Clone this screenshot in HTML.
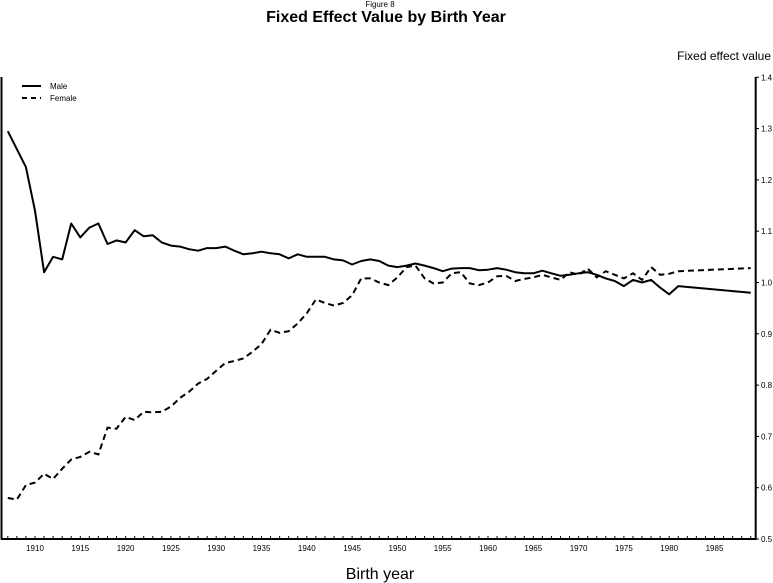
<!DOCTYPE html>
<html><head><meta charset="utf-8"><style>
html,body{margin:0;padding:0;background:#fff;}
svg{display:block;font-family:"Liberation Sans",sans-serif;}
</style></head><body>
<svg id="s" width="773" height="583" viewBox="0 0 773 583" xmlns="http://www.w3.org/2000/svg">
<text x="380" y="7" font-size="8" text-anchor="middle">Figure 8</text>
<text x="386" y="22" font-size="16" font-weight="bold" text-anchor="middle">Fixed Effect Value by Birth Year</text>
<text x="771" y="60" font-size="12" text-anchor="end">Fixed effect value</text>
<text x="380" y="579" font-size="16" text-anchor="middle">Birth year</text>
<line x1="22" y1="86" x2="41" y2="86" stroke="#000" stroke-width="2"/>
<line x1="22" y1="98" x2="41" y2="98" stroke="#000" stroke-width="2" stroke-dasharray="5,4"/>
<text x="50" y="89" font-size="8">Male</text>
<text x="50" y="101" font-size="8">Female</text>
<g stroke="#000" fill="none">
<line x1="1.5" y1="77" x2="1.5" y2="539.5" stroke-width="2"/>
<line x1="1" y1="539" x2="756.5" y2="539" stroke-width="2"/>
<line x1="755.7" y1="77" x2="755.7" y2="540" stroke-width="2"/>
</g>
<g id="g"></g>
</svg>
<script>
var NS="http://www.w3.org/2000/svg",g=document.getElementById("g");
function X(y){return 35+(y-1910)*9.06;}
function Y(v){return 539-(v-0.5)*513;}
function el(t,a,txt){var e=document.createElementNS(NS,t);for(var k in a)e.setAttribute(k,a[k]);if(txt)e.textContent=txt;g.appendChild(e);}
for(var yr=1907;yr<=1989;yr++){el("line",{x1:X(yr),y1:539,x2:X(yr),y2:536,stroke:"#000","stroke-width":1});}
for(var yr=1910;yr<=1985;yr+=5){el("text",{x:X(yr),y:551,"font-size":"8","text-anchor":"middle"},String(yr));}
for(var i=0;i<=9;i++){var v=0.5+i*0.1;el("line",{x1:755.7,y1:Y(v),x2:759,y2:Y(v),stroke:"#000","stroke-width":1});el("text",{x:761,y:Y(v)+3,"font-size":"8"},v.toFixed(1));}
var m=[[1907,1.295],[1909,1.225],[1910,1.14],[1911,1.02],[1912,1.05],[1913,1.045],[1914,1.115],[1915,1.088],[1916,1.107],[1917,1.115],[1918,1.075],[1919,1.082],[1920,1.078],[1921,1.102],[1922,1.09],[1923,1.092],[1924,1.078],[1925,1.072],[1926,1.07],[1927,1.065],[1928,1.062],[1929,1.067],[1930,1.067],[1931,1.07],[1932,1.062],[1933,1.055],[1934,1.057],[1935,1.06],[1936,1.057],[1937,1.055],[1938,1.047],[1939,1.055],[1940,1.05],[1941,1.05],[1942,1.05],[1943,1.045],[1944,1.043],[1945,1.035],[1946,1.042],[1947,1.045],[1948,1.042],[1949,1.033],[1950,1.03],[1951,1.033],[1952,1.037],[1953,1.033],[1954,1.028],[1955,1.022],[1956,1.027],[1957,1.028],[1958,1.028],[1959,1.024],[1960,1.025],[1961,1.028],[1962,1.025],[1963,1.02],[1964,1.018],[1965,1.018],[1966,1.023],[1967,1.018],[1968,1.013],[1969,1.015],[1970,1.018],[1971,1.02],[1972,1.015],[1973,1.008],[1974,1.003],[1975,0.993],[1976,1.005],[1977,1.0],[1978,1.005],[1979,0.99],[1980,0.977],[1981,0.993],[1989,0.98]];
var f=[[1907,0.58],[1908,0.577],[1909,0.605],[1910,0.61],[1911,0.627],[1912,0.617],[1913,0.637],[1914,0.655],[1915,0.66],[1916,0.67],[1917,0.665],[1918,0.717],[1919,0.715],[1920,0.738],[1921,0.732],[1922,0.748],[1923,0.747],[1924,0.748],[1925,0.758],[1926,0.775],[1927,0.787],[1928,0.803],[1929,0.812],[1930,0.828],[1931,0.843],[1932,0.847],[1933,0.852],[1934,0.865],[1935,0.88],[1936,0.908],[1937,0.902],[1938,0.905],[1939,0.92],[1940,0.94],[1941,0.967],[1942,0.96],[1943,0.955],[1944,0.96],[1945,0.975],[1946,1.008],[1947,1.008],[1948,1.0],[1949,0.995],[1950,1.01],[1951,1.03],[1952,1.033],[1953,1.008],[1954,0.998],[1955,1.0],[1956,1.018],[1957,1.02],[1958,0.998],[1959,0.995],[1960,1.0],[1961,1.012],[1962,1.013],[1963,1.003],[1964,1.007],[1965,1.01],[1966,1.015],[1967,1.01],[1968,1.005],[1969,1.02],[1970,1.015],[1971,1.027],[1972,1.01],[1973,1.022],[1974,1.015],[1975,1.008],[1976,1.018],[1977,1.005],[1978,1.03],[1979,1.015],[1980,1.017],[1981,1.022],[1989,1.028]];
function pts(a){return a.map(function(p){return X(p[0]).toFixed(1)+","+Y(p[1]).toFixed(1);}).join(" ");}
el("polyline",{points:pts(m),fill:"none",stroke:"#000","stroke-width":2,"stroke-linejoin":"round"});
el("polyline",{points:pts(f),fill:"none",stroke:"#000","stroke-width":2,"stroke-dasharray":"6,4"});
</script>
</body></html>
